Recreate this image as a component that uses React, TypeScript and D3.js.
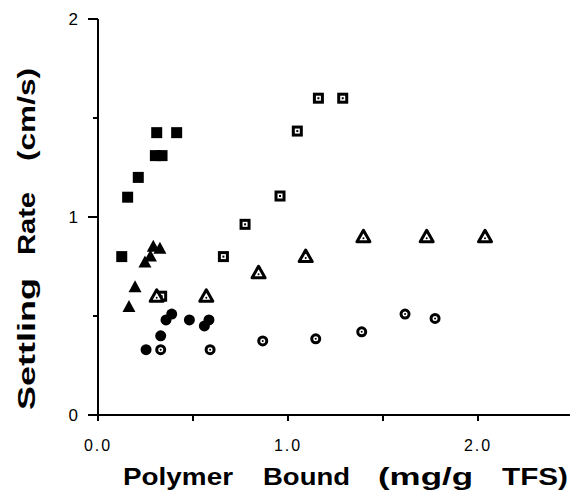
import React, { useEffect, useRef } from "react";
import * as d3 from "d3";

// polymer bound (mg/g TFS) vs settling rate (cm/s), one pair of arrays per series
const filledSquareX = [0.125, 0.156, 0.212, 0.302, 0.337, 0.309, 0.414];
const filledSquareY = [0.8, 1.1, 1.2, 1.31, 1.31, 1.426, 1.426];

const filledTriangleX = [0.163, 0.195, 0.247, 0.276, 0.291, 0.326];
const filledTriangleY = [0.545, 0.645, 0.77, 0.8, 0.85, 0.84];

const filledCircleX = [0.253, 0.33, 0.358, 0.388, 0.481, 0.56, 0.584];
const filledCircleY = [0.33, 0.4, 0.48, 0.51, 0.48, 0.45, 0.48];

const openSquareX = [0.335, 0.66, 0.774, 0.958, 1.049, 1.16, 1.288];
const openSquareY = [0.6, 0.8, 0.963, 1.106, 1.434, 1.6, 1.6];

const openTriangleX = [0.309, 0.57, 0.845, 1.093, 1.397, 1.73, 2.037];
const openTriangleY = [0.6, 0.6, 0.718, 0.8, 0.9, 0.9, 0.9];

const openCircleX = [0.33, 0.59, 0.867, 1.146, 1.388, 1.616, 1.774];
const openCircleY = [0.33, 0.33, 0.374, 0.385, 0.42, 0.51, 0.488];

const xTickLabels = ["0.0", "1.0", "2.0"];
const yTickLabels = ["0", "1", "2"];

// axis titles, word by word with the span each word takes [start, end]
const xTitleWords = [
  { t: "Polymer", a: 123, b: 233 },
  { t: "Bound", a: 263, b: 350 },
  { t: "(mg/g", a: 378, b: 473 },
  { t: "TFS)", a: 502, b: 568 },
];
const yTitleWords = [
  { t: "Settling", a: 410, b: 278 },
  { t: "Rate", a: 255, b: 192 },
  { t: "(cm/s)", a: 161, b: 68 },
];

const zip = (xs: number[], ys: number[]) => xs.map((x, i) => ({ x, y: ys[i] }));

const App = () => {
  const ref = useRef<HTMLDivElement>(null);

  useEffect(() => {
    d3.select(ref.current).selectAll("*").remove();

    const svg = d3
      .select(ref.current)
      .append("svg")
      .attr("width", 570)
      .attr("height", 491)
      .style("position", "absolute")
      .style("left", 0)
      .style("top", 0)
      .style("background", "#fff");

    const x = d3.scaleLinear().domain([0, 2.5]).range([98, 573]);
    const y = d3.scaleLinear().domain([0, 2]).range([415, 19]);
    const font = "'Liberation Sans', Arial, sans-serif";

    // axes lines
    const axes = svg.append("g").attr("stroke", "#000").attr("stroke-width", 2);
    axes.append("line").attr("x1", x(0)).attr("x2", 570).attr("y1", y(0)).attr("y2", y(0));
    axes.append("line").attr("x1", x(0)).attr("x2", x(0)).attr("y1", y(0) + 1).attr("y2", y(2));

    // y ticks
    [0, 0.5, 1, 1.5, 2].forEach((v) => {
      const len = v % 1 === 0 ? 10 : 5;
      axes.append("line").attr("x1", x(0) - len).attr("x2", x(0)).attr("y1", y(v)).attr("y2", y(v));
    });
    // x ticks
    [0, 0.5, 1, 1.5, 2].forEach((v) => {
      axes.append("line").attr("x1", x(v)).attr("x2", x(v)).attr("y1", y(0)).attr("y2", y(0) + 6);
    });

    svg
      .append("g")
      .selectAll("text")
      .data(yTickLabels)
      .join("text")
      .attr("x", 78)
      .attr("y", (d) => y(+d) + 6)
      .attr("text-anchor", "end")
      .attr("font-family", font)
      .attr("font-size", 17)
      .text((d) => d);

    svg
      .append("g")
      .selectAll("text")
      .data(xTickLabels)
      .join("text")
      .attr("x", (d) => x(+d))
      .attr("y", 451)
      .attr("text-anchor", "middle")
      .attr("font-family", font)
      .attr("font-size", 16)
      .attr("letter-spacing", 2)
      .text((d) => d);

    // axis titles
    svg
      .append("g")
      .selectAll("text")
      .data(xTitleWords)
      .join("text")
      .attr("x", (d) => d.a)
      .attr("y", 485)
      .attr("textLength", (d) => d.b - d.a)
      .attr("lengthAdjust", "spacingAndGlyphs")
      .attr("font-family", font)
      .attr("font-weight", "bold")
      .attr("font-size", 24)
      .text((d) => d.t);

    svg
      .append("g")
      .selectAll("text")
      .data(yTitleWords)
      .join("text")
      .attr("transform", (d) => `translate(35,${d.a}) rotate(-90)`)
      .attr("textLength", (d) => d.a - d.b)
      .attr("lengthAdjust", "spacingAndGlyphs")
      .attr("font-family", font)
      .attr("font-weight", "bold")
      .attr("font-size", 24)
      .text((d) => d.t);

    const pts = svg.append("g");

    // open squares
    const os = pts.append("g").selectAll("g").data(zip(openSquareX, openSquareY)).join("g")
      .attr("transform", (d) => `translate(${x(d.x)},${y(d.y)})`);
    os.append("rect").attr("x", -4).attr("y", -4).attr("width", 8).attr("height", 8)
      .attr("fill", "#fff").attr("stroke", "#000").attr("stroke-width", 3);
    os.append("rect").attr("x", -1).attr("y", -1).attr("width", 2).attr("height", 2).attr("fill", "#000");

    // open triangles
    const ot = pts.append("g").selectAll("g").data(zip(openTriangleX, openTriangleY)).join("g")
      .attr("transform", (d) => `translate(${x(d.x)},${y(d.y)})`);
    ot.append("path").attr("d", "M0,-6.5 L6.5,5 L-6.5,5 Z")
      .attr("fill", "#fff").attr("stroke", "#000").attr("stroke-width", 3).attr("stroke-linejoin", "round");
    ot.append("circle").attr("cy", 1.5).attr("r", 1).attr("fill", "#000");

    // open circles
    const oc = pts.append("g").selectAll("g").data(zip(openCircleX, openCircleY)).join("g")
      .attr("transform", (d) => `translate(${x(d.x)},${y(d.y)})`);
    oc.append("circle").attr("r", 4).attr("fill", "#fff").attr("stroke", "#000").attr("stroke-width", 3);
    oc.append("circle").attr("r", 1).attr("fill", "#000");

    // filled squares
    pts.append("g").selectAll("rect").data(zip(filledSquareX, filledSquareY)).join("rect")
      .attr("x", (d) => x(d.x) - 5.5).attr("y", (d) => y(d.y) - 5.5)
      .attr("width", 11).attr("height", 11).attr("fill", "#000");

    // filled triangles
    pts.append("g").selectAll("path").data(zip(filledTriangleX, filledTriangleY)).join("path")
      .attr("transform", (d) => `translate(${x(d.x)},${y(d.y)})`)
      .attr("d", "M0,-7 L6.5,5 L-6.5,5 Z").attr("fill", "#000");

    // filled circles
    pts.append("g").selectAll("circle").data(zip(filledCircleX, filledCircleY)).join("circle")
      .attr("cx", (d) => x(d.x)).attr("cy", (d) => y(d.y)).attr("r", 5.5).attr("fill", "#000");
  }, []);

  return <div ref={ref} />;
};

export default App;
